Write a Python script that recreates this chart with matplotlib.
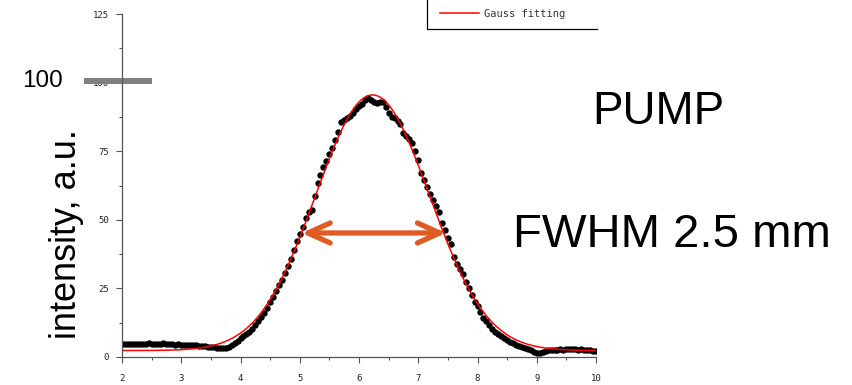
import numpy as np
import matplotlib
matplotlib.use("Agg")
import matplotlib.pyplot as plt
from matplotlib.lines import Line2D
from matplotlib.patches import FancyArrowPatch

# Профіль пучка накачки: положення (мм) та інтенсивність (відн. од.)
pos = np.round(np.linspace(2.0, 10.0, 161), 2)
intensity = [
    4.6, 4.7, 4.8, 4.7, 4.9, 4.8, 4.6, 4.7, 4.9, 5.0,
    4.8, 4.7, 4.6, 4.8, 5.0, 4.9, 4.7, 4.6, 4.5, 4.6,
    4.5, 4.4, 4.5, 4.3, 4.2, 4.3, 4.1, 4.0, 3.9, 3.8,
    3.6,
    3.5, 3.3, 3.2, 3.1, 3.2, 3.6, 4.3, 5.2, 6.0,
    7.0, 7.6, 8.4, 9.1, 10.3, 11.7, 13.0, 14.4, 16.0, 18.0,
    20.0, 22.0, 24.0, 26.2, 28.2, 30.6, 33.2, 35.8, 39.0, 42.3,
    44.8, 47.4, 50.5, 52.8, 53.6, 58.5, 63.5, 66.5, 69.3, 71.5,
    74.0, 76.3, 79.0, 82.0, 85.5, 86.4, 87.2, 88.0, 89.0, 90.2,
    91.3, 92.3, 93.5, 94.5, 93.6, 93.0, 92.6, 93.0, 93.0, 91.0,
    89.0, 87.5, 87.0, 86.0, 85.0, 81.6, 80.6, 79.6, 78.0, 75.0,
    71.8, 67.0, 64.5, 62.0, 59.5, 57.2, 55.2, 53.0, 49.0, 46.3,
    43.5, 41.0, 36.5, 34.0, 32.0, 30.2, 27.5, 25.0, 22.5, 20.0,
    18.5, 16.3, 14.3, 13.0, 11.8, 10.3, 9.1, 8.3, 7.5, 6.8,
    6.2, 5.6, 5.0, 4.5, 3.9, 3.5, 3.2, 2.8, 2.4, 2.0,
    1.6, 1.5, 2.0, 2.3, 2.5, 2.6, 2.6, 2.7, 2.8, 2.7,
    2.8, 2.9, 3.0, 2.9, 2.7, 2.8, 2.6, 2.5, 2.4, 2.3,
    2.2,
]
intensity = np.array(intensity)
assert len(pos) == len(intensity)

x_ticks = [2, 3, 4, 5, 6, 7, 8, 9, 10]
y_ticks = [0, 25, 50, 75, 100, 125]
arrow_x = [5.03, 7.47]
arrow_y = 45.2


# Підгонка гаусом (метод Гаусса-Ньютона)
def gauss(x, p):
    y0, a, xc, s = p
    return y0 + a * np.exp(-(x - xc) ** 2 / (2 * s ** 2))


p = np.array([intensity.min(), intensity.max() - intensity.min(),
              pos[np.argmax(intensity)], 1.0])
for _ in range(60):
    y0, a, xc, s = p
    e = np.exp(-(pos - xc) ** 2 / (2 * s ** 2))
    J = np.column_stack([np.ones_like(pos), e,
                         a * e * (pos - xc) / s ** 2,
                         a * e * (pos - xc) ** 2 / s ** 3])
    dp = np.linalg.lstsq(J, intensity - gauss(pos, p), rcond=None)[0]
    p = p + dp
x_fit = np.linspace(2, 10, 400)
y_fit = gauss(x_fit, p)

W, H = 852, 385
fig = plt.figure(figsize=(W / 100, H / 100), dpi=100)
ax = fig.add_axes([122 / W, 1 - 357 / H, 474 / W, 343 / H])

ax.plot(pos, intensity, 'o', color='black', ms=4.6, mew=0)
ax.plot(x_fit, y_fit, color='red', lw=1.1)

ax.set_xlim(2, 10)
ax.set_ylim(0, 125)
ax.set_xticks(x_ticks)
ax.set_yticks(y_ticks)
ax.set_xticks(np.arange(2.5, 10, 1), minor=True)
ax.set_yticks(np.arange(12.5, 125, 25), minor=True)
for side in ['top', 'right']:
    ax.spines[side].set_visible(False)
for side in ['left', 'bottom']:
    ax.spines[side].set_color('#555555')
    ax.spines[side].set_linewidth(0.9)
tick_font = dict(family='DejaVu Sans Mono', size=6.5)
ax.tick_params(which='major', direction='out', length=4.5, width=0.8, color='#555555')
ax.tick_params(which='minor', direction='out', length=2.5, width=0.8, color='#555555')
ax.tick_params(axis='x', pad=8)
ax.tick_params(axis='y', pad=5)
for lab in ax.get_xticklabels() + ax.get_yticklabels():
    lab.set_fontproperties(tick_font)
    lab.set_color('#222222')

# Підпис осі
fig.text(66 / W, 1 - 234 / H, 'intensity, a.u.', rotation=90, fontsize=26,
         family='Liberation Sans', ha='center', va='center')

# Позначка 100
ax.plot([1.36, 2.51], [100.6, 100.6], color='#808080', lw=4.3,
        solid_capstyle='butt', clip_on=False)
fig.text(42 / W, 1 - 81 / H, '100', fontsize=17.5, family='Liberation Sans',
         ha='center', va='center')

# Стрілка FWHM
arrow = FancyArrowPatch((arrow_x[0], arrow_y), (arrow_x[1], arrow_y),
                        arrowstyle='<->,head_length=0.8,head_width=0.36',
                        mutation_scale=20, color='#E05A24', lw=3.8,
                        shrinkA=0, shrinkB=0,
                        capstyle='round', joinstyle='round')
ax.add_patch(arrow)

fig.text(592 / W, 1 - 112 / H, 'PUMP', fontsize=33, family='Liberation Sans',
         ha='left', va='center')
fig.text(513 / W, 1 - 235 / H, 'FWHM 2.5 mm', fontsize=34, family='Liberation Sans',
         ha='left', va='center')

# Фрагмент легенди
fig.add_artist(Line2D([427 / W, 427 / W, 597 / W], [1.0, 1 - 29 / H, 1 - 29 / H],
                      transform=fig.transFigure, color='black', lw=0.9))
fig.add_artist(Line2D([440 / W, 479 / W], [1 - 13 / H, 1 - 13 / H],
                      transform=fig.transFigure, color='red', lw=1.1))
fig.text(484 / W, 1 - 14 / H, 'Gauss fitting', fontsize=7.5,
         family='DejaVu Sans Mono', ha='left', va='center', color='#333333')

fig.savefig('out.png', dpi=100)
